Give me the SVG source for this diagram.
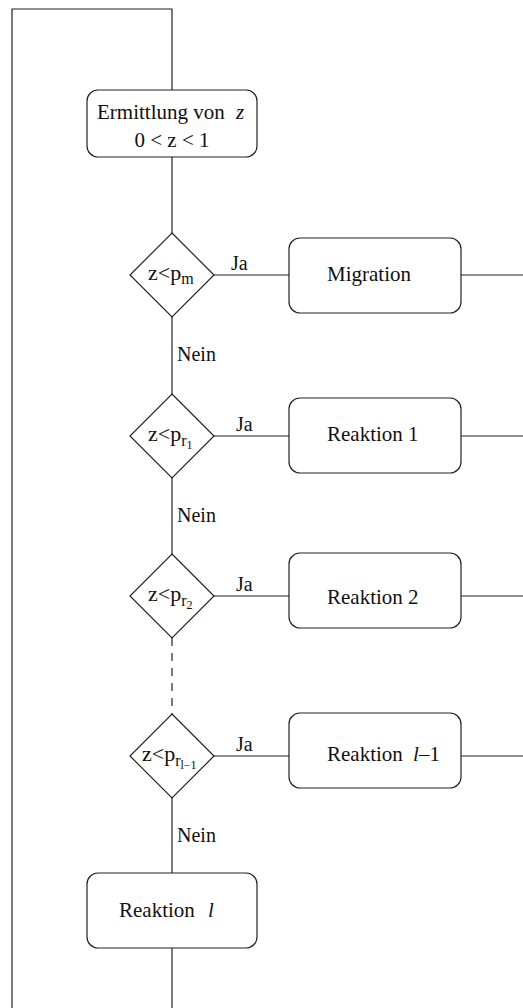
<svg xmlns="http://www.w3.org/2000/svg" width="523" height="1008" viewBox="0 0 523 1008">
  <style>
    .box { fill: #fff; stroke: #222; stroke-width: 1.2; }
    .ln { fill: none; stroke: #222; stroke-width: 1.2; }
    .dash { stroke-dasharray: 8 7; }
    .t { font-size: 21px; fill: #111; }
    .d { font-size: 22px; fill: #111; }
    .lbl { font-size: 20px; fill: #111; }
    .it { font-style: italic; }
    .sub { font-size: 16px; }
    .sub2 { font-size: 12px; }
  </style>

  <!-- connectors -->
  <g id="connectors">
    <!-- feedback loop on the left -->
    <polyline class="ln" points="172,90 172,9 12,9 12,1008"/>
    <line class="ln" x1="172" y1="157" x2="172" y2="233"/>
    <line class="ln" x1="172" y1="317" x2="172" y2="394"/>
    <line class="ln" x1="172" y1="478" x2="172" y2="554"/>
    <line class="ln dash" x1="172" y1="638" x2="172" y2="714"/>
    <line class="ln" x1="172" y1="798" x2="172" y2="873"/>
    <line class="ln" x1="172" y1="948" x2="172" y2="1008"/>
    <!-- Ja branches -->
    <line class="ln" x1="214" y1="275" x2="289" y2="275"/>
    <line class="ln" x1="461" y1="275" x2="523" y2="275"/>
    <line class="ln" x1="214" y1="436" x2="289" y2="436"/>
    <line class="ln" x1="461" y1="436" x2="523" y2="436"/>
    <line class="ln" x1="214" y1="596" x2="289" y2="596"/>
    <line class="ln" x1="461" y1="596" x2="523" y2="596"/>
    <line class="ln" x1="214" y1="756" x2="289" y2="756"/>
    <line class="ln" x1="461" y1="756" x2="523" y2="756"/>
    <!-- labels -->
    <text class="lbl" font-family="Liberation Serif" x="231" y="270">Ja</text>
    <text class="lbl" font-family="Liberation Serif" x="236" y="431">Ja</text>
    <text class="lbl" font-family="Liberation Serif" x="236" y="591">Ja</text>
    <text class="lbl" font-family="Liberation Serif" x="236" y="751">Ja</text>
    <text class="lbl" font-family="Liberation Serif" x="177" y="361">Nein</text>
    <text class="lbl" font-family="Liberation Serif" x="177" y="522">Nein</text>
    <text class="lbl" font-family="Liberation Serif" x="177" y="842">Nein</text>
  </g>

  <g id="start">
    <rect class="box" x="87" y="90" width="170" height="67" rx="11"/>
    <text class="t" font-family="Liberation Serif" x="97" y="119">Ermittlung von <tspan class="it" dx="6">z</tspan></text>
    <text class="t" font-family="Liberation Serif" x="172" y="147" text-anchor="middle">0 &lt; z &lt; 1</text>
  </g>

  <g id="dec-m">
    <polygon class="box" points="172,233 214,275 172,317 130,275"/>
    <text class="d" font-family="Liberation Serif" x="148" y="280">z&lt;p<tspan class="sub" dy="4">m</tspan></text>
  </g>
  <g id="migration">
    <rect class="box" x="289" y="238" width="172" height="75" rx="11"/>
    <text class="t" font-family="Liberation Serif" x="327" y="281">Migration</text>
  </g>

  <g id="dec-r1">
    <polygon class="box" points="172,394 214,436 172,478 130,436"/>
    <text class="d" font-family="Liberation Serif" x="148" y="441">z&lt;p<tspan class="sub" dy="5">r</tspan><tspan class="sub2" dy="3">1</tspan></text>
  </g>
  <g id="reaktion1">
    <rect class="box" x="289" y="398" width="172" height="75" rx="11"/>
    <text class="t" font-family="Liberation Serif" x="327" y="441">Reaktion 1</text>
  </g>

  <g id="dec-r2">
    <polygon class="box" points="172,554 214,596 172,638 130,596"/>
    <text class="d" font-family="Liberation Serif" x="148" y="601">z&lt;p<tspan class="sub" dy="5">r</tspan><tspan class="sub2" dy="3">2</tspan></text>
  </g>
  <g id="reaktion2">
    <rect class="box" x="289" y="553" width="172" height="75" rx="11"/>
    <text class="t" font-family="Liberation Serif" x="327" y="604">Reaktion 2</text>
  </g>

  <g id="dec-rl1">
    <polygon class="box" points="172,714 214,756 172,798 130,756"/>
    <text class="d" font-family="Liberation Serif" x="142" y="761">z&lt;p<tspan class="sub" dy="5">r</tspan><tspan class="sub2" dy="3">l−1</tspan></text>
  </g>
  <g id="reaktion-l1">
    <rect class="box" x="289" y="713" width="172" height="75" rx="11"/>
    <text class="t" font-family="Liberation Serif" x="327" y="761">Reaktion <tspan class="it" dx="5">l</tspan>–1</text>
  </g>

  <g id="reaktion-l">
    <rect class="box" x="87" y="873" width="170" height="75" rx="11"/>
    <text class="t" font-family="Liberation Serif" x="119" y="917">Reaktion <tspan class="it" dx="8">l</tspan></text>
  </g>
</svg>
